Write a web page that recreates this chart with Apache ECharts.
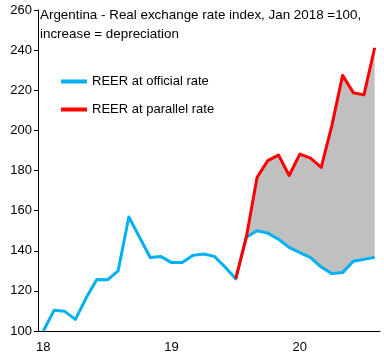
<!DOCTYPE html>
<html>
<head>
<meta charset="utf-8">
<script src="https://cdn.jsdelivr.net/npm/echarts@6/dist/echarts.min.js"></script>
<style>
html,body{margin:0;padding:0;background:#fff;}
#chart{width:384px;height:360px;}
</style>
</head>
<body>
<div id="chart"></div>
<script>
// Months Jan 2018 .. Aug 2020
var months = [
  '2018-01','2018-02','2018-03','2018-04','2018-05','2018-06','2018-07','2018-08','2018-09','2018-10','2018-11','2018-12',
  '2019-01','2019-02','2019-03','2019-04','2019-05','2019-06','2019-07','2019-08','2019-09','2019-10','2019-11','2019-12',
  '2020-01','2020-02','2020-03','2020-04','2020-05','2020-06','2020-07','2020-08'
];
var officialRate = [
  100, 110.3, 109.8, 105.8, 116.4, 125.7, 125.5, 130.0, 156.8, 146.7, 136.6, 137.1,
  134.1, 134.1, 137.7, 138.4, 137.2, 131.9, 126.0, 146.8, 150.0, 148.8, 145.7, 141.7,
  139.1, 136.6, 131.9, 128.6, 129.1, 134.8, 135.7, 136.7
];
var parallelRate = [
  null, null, null, null, null, null, null, null, null, null, null, null,
  null, null, null, null, null, null, 126.0, 147.0, 176.6, 184.9, 187.7, 177.5,
  188.2, 186.2, 181.6, 202.5, 227.4, 218.8, 217.7, 241.2
];
var yTicks = { min: 100, max: 260, interval: 20 };
var titleLines = ['Argentina - Real exchange rate index, Jan 2018 =100,', 'increase = depreciation'];
var seriesNames = ['REER at official rate', 'REER at parallel rate'];

var FONT = 'Liberation Sans';
// gap band: base = official, band = parallel - official (where both exist from Aug 2019)
var bandBase = officialRate.map(function (v, i) { return (parallelRate[i] != null && i >= 19) ? v : null; });
var bandDiff = officialRate.map(function (v, i) { return (parallelRate[i] != null && i >= 19) ? +(parallelRate[i] - v).toFixed(2) : null; });

var chart = echarts.init(document.getElementById('chart'), null, { renderer: 'canvas' });
chart.setOption({
  animation: false,
  backgroundColor: '#ffffff',
  title: {
    text: titleLines.join('\n'),
    left: 40, top: 6, padding: 0,
    textStyle: { fontFamily: FONT, fontSize: 13.4, fontWeight: 'normal', color: '#000', lineHeight: 19 }
  },
  legend: {
    data: seriesNames,
    orient: 'vertical',
    left: 61, top: 75, padding: 0,
    itemWidth: 26, itemHeight: 4,
    itemGap: 15,
    icon: 'rect',
    textStyle: { fontFamily: FONT, fontSize: 13, color: '#000' }
  },
  grid: { left: 38, right: 4, top: 10, bottom: 29, containLabel: false },
  xAxis: {
    type: 'category',
    data: months,
    boundaryGap: true,
    axisLine: { lineStyle: { color: '#000', width: 1 } },
    axisTick: { interval: 11, length: 4, lineStyle: { color: '#000' } },
    axisLabel: {
      interval: 11, margin: 10,
      fontFamily: FONT, fontSize: 13, color: '#000',
      formatter: function (v) { return v.slice(2, 4); }
    },
    splitLine: { show: false }
  },
  yAxis: {
    type: 'value',
    min: yTicks.min, max: yTicks.max, interval: yTicks.interval,
    axisLine: { show: true, lineStyle: { color: '#000', width: 1 } },
    axisTick: { show: true, length: 4, lineStyle: { color: '#000' } },
    axisLabel: { margin: 6, fontFamily: FONT, fontSize: 13, color: '#000' },
    splitLine: { show: false }
  },
  series: [
    {
      name: 'bandBase', type: 'line', stack: 'band', data: bandBase,
      symbol: 'none', lineStyle: { width: 0, opacity: 0 }, silent: true, z: 1
    },
    {
      name: 'bandDiff', type: 'line', stack: 'band', data: bandDiff,
      symbol: 'none', lineStyle: { width: 0, opacity: 0 },
      areaStyle: { color: '#c0c0c0', opacity: 1 }, silent: true, z: 1
    },
    {
      name: seriesNames[0], type: 'line', data: officialRate,
      symbol: 'none', color: '#00b0f0',
      lineStyle: { width: 3, color: '#00b0f0', join: 'round' }, z: 3
    },
    {
      name: seriesNames[1], type: 'line', data: parallelRate,
      symbol: 'none', color: '#ff0000',
      lineStyle: { width: 3, color: '#ff0000', join: 'round' }, z: 4
    }
  ]
});
</script>
</body>
</html>
